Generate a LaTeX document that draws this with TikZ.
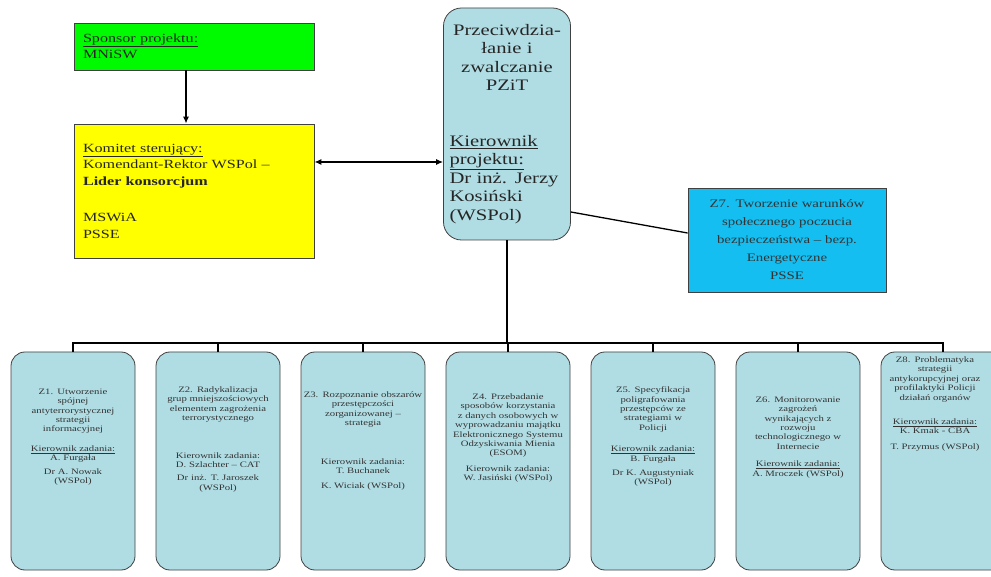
\documentclass[tikz,border=0pt]{standalone}
\usepackage{fontspec}
\setmainfont{Liberation Serif}[FakeStretch=1.29]
\usepackage{tikz}
\usetikzlibrary{arrows.meta, positioning}
\definecolor{paleblue}{RGB}{176,221,228}
\definecolor{skyblue}{RGB}{20,190,240}
\definecolor{sponsorgreen}{RGB}{0,250,0}
\definecolor{boardyellow}{RGB}{255,255,0}
\newcommand{\kier}{\underline{Kierownik zadania:}}
\hyphenpenalty=10000
\exhyphenpenalty=10000

\begin{document}
\begin{tikzpicture}[x=1pt, y=-1pt,
  boxline/.style={draw=black!75, line width=0.8pt},
  topbox/.style={boxline, minimum width=240pt, text width=222pt, align=left,
    font=\fontsize{12.5}{16.5}\selectfont, text=black!85},
  taskbox/.style={boxline, rounded corners=14pt, fill=paleblue,
    minimum width=124pt, minimum height=218pt},
  tasktext/.style={text width=124pt, align=center, inner sep=0pt,
    font=\fontsize{8.3}{9.4}\selectfont, text=black!80},
  wire/.style={line width=1.3pt, black},
  tip/.style={wire, {Latex[length=7pt,width=6pt]}-{Latex[length=7pt,width=6pt]}}
]
\useasboundingbox (0,0) rectangle (991,577);

\node[topbox, fill=sponsorgreen, minimum height=47pt] (sponsor) at (194,46.5)
  {\underline{Sponsor projektu:}\\ MNiSW};
\node[topbox, fill=boardyellow, minimum height=134pt] (komitet) at (194,191)
  {\underline{Komitet sterujący:}\\ Komendant-Rektor WSPol –\\ \textbf{Lider konsorcjum}\\[20pt] MSWiA\\ PSSE};

\node[boxline, rounded corners=18pt, fill=paleblue, minimum width=127pt,
  minimum height=232pt, text width=115pt, align=left,
  font=\fontsize{16}{18.5}\selectfont, text=black!85] (ctr) at (507,124)
  {{\centering Przeciwdzia-\\ łanie i\\ zwalczanie\\ PZiT\par}\vspace{37pt}\underline{Kierownik}\\ \underline{projektu:}\\ Dr inż. Jerzy\\ Kosiński\\ (WSPol)};

\node[boxline, fill=skyblue, minimum width=198pt, minimum height=104pt,
  text width=186pt, align=center, font=\fontsize{11.5}{18}\selectfont,
  text=black!80] (z7) at (787,240)
  {Z7. Tworzenie warunków\\ społecznego poczucia\\ bezpieczeństwa – bezp.\\ Energetyczne\\ PSSE};

\foreach \n/\x in {z1/73, z2/218, z3/363, z4/508, z5/653, z6/798, z8/943}
  \node[taskbox] (\n) at (\x,461) {};

\node[tasktext, below=37pt of z1.north]
  {Z1. Utworzenie\\ spójnej\\ antyterrorystycznej\\ strategii\\ informacyjnej\\[10pt] \kier\\ A. Furgała\\[4pt] Dr A. Nowak\\ (WSPol)};
\node[tasktext, below=35pt of z2.north]
  {Z2. Radykalizacja\\ grup mniejszościowych\\ elementem zagrożenia\\ terrorystycznego\\[28pt] Kierownik zadania:\\ D. Szlachter – CAT\\[4pt] Dr inż. T. Jaroszek\\ (WSPol)};
\node[tasktext, below=40pt of z3.north]
  {Z3. Rozpoznanie obszarów\\ przestępczości\\ zorganizowanej –\\ strategia\\[29pt] Kierownik zadania:\\ T. Buchanek\\[6pt] K. Wiciak (WSPol)};
\node[tasktext, below=42pt of z4.north]
  {Z4. Przebadanie\\ sposobów korzystania\\ z danych osobowych w\\ wyprowadzaniu majątku\\ Elektronicznego Systemu\\ Odzyskiwania Mienia\\ (ESOM)\\[6pt] Kierownik zadania:\\ W. Jasiński (WSPol)};
\node[tasktext, below=35pt of z5.north]
  {Z5. Specyfikacja\\ poligrafowania\\ przestępców ze\\ strategiami w\\ Policji\\[12pt] \kier\\ B. Furgała\\[5pt] Dr K. Augustyniak\\ (WSPol)};
\node[tasktext, below=45pt of z6.north]
  {Z6. Monitorowanie\\ zagrożeń\\ wynikających z\\ rozwoju\\ technologicznego w\\ Internecie\\[8pt] \kier\\ A. Mroczek (WSPol)};
\node[tasktext, text width=104pt, below=5pt of z8.north, xshift=-8pt]
  {Z8. Problematyka\\ strategii\\ antykorupcyjnej oraz\\ profilaktyki Policji\\ działań organów\\[15pt] \kier\\ K. Kmak - CBA\\[6pt] T. Przymus (WSPol)};

\coordinate (bus) at (507,343);
\coordinate (link) at (380,162);

\draw[wire, -{Latex[length=7pt,width=6pt]}] ([xshift=-8pt]sponsor.south) -- ([xshift=-8pt]komitet.north);
\draw[tip] (komitet.east |- link) -- (ctr.west |- link);
\draw[wire] ([yshift=-88pt]ctr.east) -- ([yshift=7pt]z7.west);
\draw[wire] (ctr.south) -- (bus);
\draw[wire] (z1.north) -- (z1.north |- bus) -| (z8.north);
\foreach \n in {z2, z3, z4, z5, z6}
  \draw[wire] (\n.north) -- (\n.north |- bus);
\end{tikzpicture}
\end{document}
